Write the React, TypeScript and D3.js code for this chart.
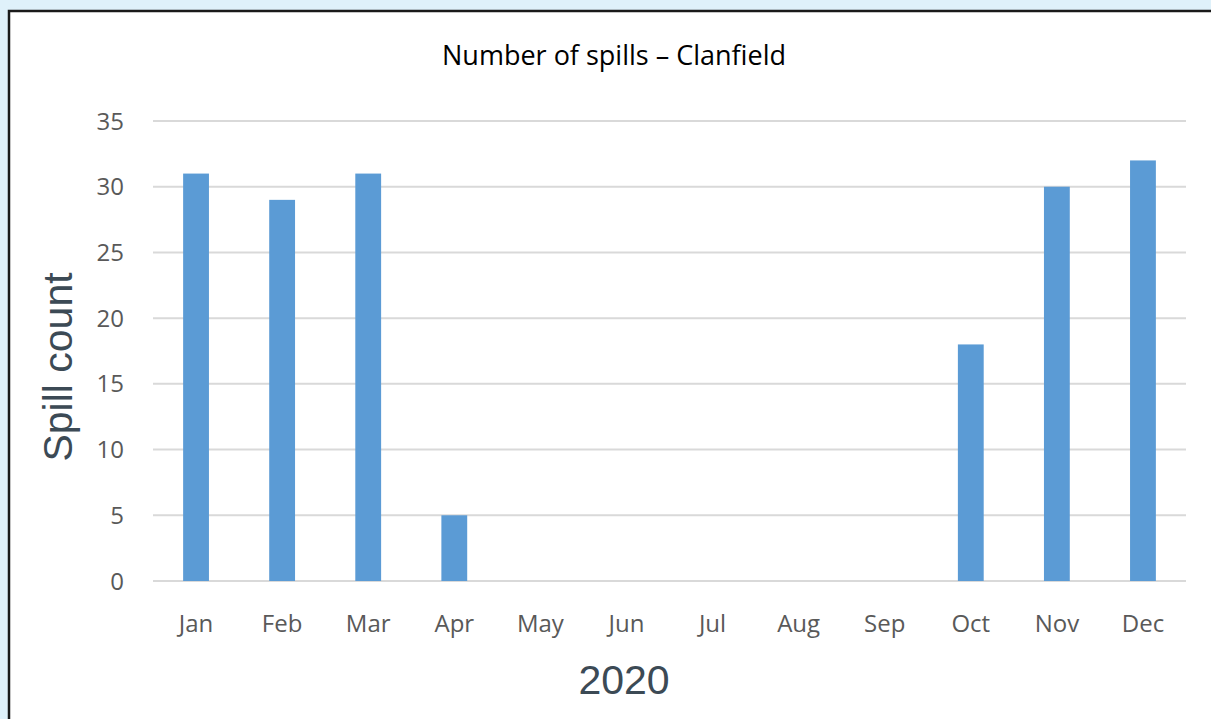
import React, { useEffect, useRef } from 'react';
import * as d3 from 'd3';

const months = ['Jan', 'Feb', 'Mar', 'Apr', 'May', 'Jun', 'Jul', 'Aug', 'Sep', 'Oct', 'Nov', 'Dec'];
const spills = [31, 29, 31, 5, 0, 0, 0, 0, 0, 18, 30, 32];
const yTicks = [0, 5, 10, 15, 20, 25, 30, 35];

const W = 1211;
const H = 719;

const App = () => {
  const svgRef = useRef<SVGSVGElement>(null);

  useEffect(() => {
    const svg = d3.select(svgRef.current);
    svg.selectAll('*').remove();

    const margin = { top: 121, right: 25, bottom: 138, left: 153 };

    // page background + white panel
    svg.append('rect').attr('width', W).attr('height', H).attr('fill', '#dff1fa');
    svg.append('rect')
      .attr('x', 9).attr('y', 11)
      .attr('width', W + 10).attr('height', H + 10)
      .attr('fill', '#fff')
      .attr('stroke', '#1a1a1a')
      .attr('stroke-width', 2.5);

    const x = d3.scaleBand()
      .domain(months)
      .range([margin.left, W - margin.right])
      .paddingInner(0.7)
      .paddingOuter(0.35);

    const y = d3.scaleLinear()
      .domain([0, 35])
      .range([H - margin.bottom, margin.top]);

    // gridlines
    svg.append('g')
      .selectAll('line')
      .data(yTicks)
      .join('line')
      .attr('x1', margin.left)
      .attr('x2', W - margin.right)
      .attr('y1', d => y(d))
      .attr('y2', d => y(d))
      .attr('stroke', '#d9d9d9')
      .attr('stroke-width', 2);

    // bars
    svg.append('g')
      .selectAll('rect')
      .data(spills)
      .join('rect')
      .attr('x', (d, i) => x(months[i])!)
      .attr('y', d => y(d))
      .attr('width', x.bandwidth())
      .attr('height', d => y(0) - y(d))
      .attr('fill', '#5b9bd5');

    // y tick labels
    svg.append('g')
      .selectAll('text')
      .data(yTicks)
      .join('text')
      .attr('x', 124)
      .attr('y', d => y(d))
      .attr('dy', '0.36em')
      .attr('text-anchor', 'end')
      .attr('font-family', 'Open Sans')
      .attr('font-size', 24)
      .attr('fill', '#595959')
      .text(d => d);

    // x tick labels
    svg.append('g')
      .selectAll('text')
      .data(months)
      .join('text')
      .attr('x', d => x(d)! + x.bandwidth() / 2)
      .attr('y', 632)
      .attr('text-anchor', 'middle')
      .attr('font-family', 'Open Sans')
      .attr('font-size', 24)
      .attr('fill', '#595959')
      .text(d => d);

    // title
    svg.append('text')
      .attr('x', 614)
      .attr('y', 65)
      .attr('text-anchor', 'middle')
      .attr('font-family', 'Open Sans')
      .attr('font-size', 27)
      .attr('fill', '#000')
      .text('Number of spills – Clanfield');

    // axis titles
    svg.append('text')
      .attr('transform', `translate(72, 367) rotate(-90)`)
      .attr('text-anchor', 'middle')
      .attr('font-family', 'Liberation Sans')
      .attr('font-size', 41)
      .attr('fill', '#3c4a55')
      .text('Spill count');

    svg.append('text')
      .attr('x', 624)
      .attr('y', 694)
      .attr('text-anchor', 'middle')
      .attr('font-family', 'Liberation Sans')
      .attr('font-size', 41)
      .attr('fill', '#3c4a55')
      .text('2020');
  }, []);

  return (
    <svg ref={svgRef} width={W} height={H} style={{ position: 'absolute', left: 0, top: 0 }}></svg>
  );
};

export default App;
